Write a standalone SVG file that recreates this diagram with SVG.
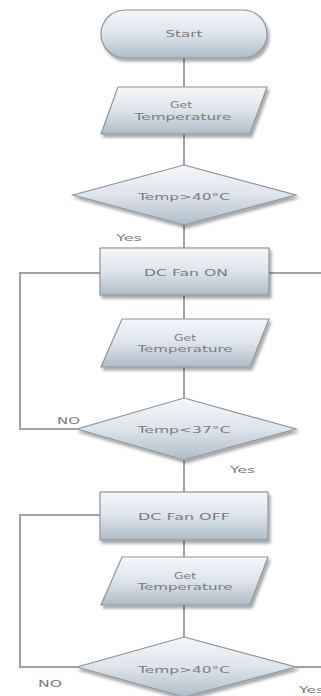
<svg xmlns="http://www.w3.org/2000/svg" width="321" height="696" viewBox="0 0 321 696">
<defs>
<linearGradient id="g" x1="0" y1="0" x2="0" y2="1">
<stop offset="0" stop-color="#f5f8fa"/>
<stop offset="0.5" stop-color="#dde4ea"/>
<stop offset="1" stop-color="#aebcc8"/>
</linearGradient>
<filter id="sh" x="-10%" y="-10%" width="130%" height="140%">
<feGaussianBlur in="SourceAlpha" stdDeviation="1.5"/>
<feOffset dx="2" dy="2.5" result="b"/>
<feComponentTransfer><feFuncA type="linear" slope="0.35"/></feComponentTransfer>
<feMerge><feMergeNode/><feMergeNode in="SourceGraphic"/></feMerge>
</filter>
<style>
.n{fill:url(#g);stroke:#8c959c;stroke-width:1.2;filter:url(#sh)}
.c{fill:none;stroke:#a3a3a3;stroke-width:2}
.t{font-family:"DejaVu Sans",sans-serif;font-size:9.5px;fill:#7c7c7c;text-anchor:middle}
.l{font-family:"DejaVu Sans",sans-serif;font-size:9px;fill:#7c7c7c}
</style>
</defs>
<rect width="321" height="696" fill="#ffffff"/>
<g id="connectors">
<path class="c" d="M184 58V87M184 134V165M184 225V248M184 295V319M184 367V398M184 460V492M184 540V557M184 605V637"/>
<path class="c" d="M100 273H20V429H77"/>
<path class="c" d="M269 273H321"/>
<path class="c" d="M100 515H20V667H77"/>
<path class="c" d="M296 667H321"/>
</g>
<g id="start">
<rect class="n" x="101" y="10" width="166" height="48" rx="24"/>
<text class="t" x="184" y="37" textLength="37" lengthAdjust="spacingAndGlyphs">Start</text>
</g>
<g id="get1">
<polygon class="n" points="118,87 267,87 250,134 101,134"/>
<text class="t" x="181" y="108" textLength="22" lengthAdjust="spacingAndGlyphs">Get</text>
<text class="t" x="183" y="120" textLength="97" lengthAdjust="spacingAndGlyphs">Temperature</text>
</g>
<g id="dec1">
<polygon class="n" points="184,165 296,195 184,225 73,195"/>
<text class="t" x="184" y="200" textLength="92" lengthAdjust="spacingAndGlyphs">Temp&gt;40°C</text>
</g>
<text class="l" x="116" y="241" textLength="26" lengthAdjust="spacingAndGlyphs">Yes</text>
<g id="fanon">
<rect class="n" x="100" y="248" width="169" height="47"/>
<text class="t" x="186" y="276" textLength="84" lengthAdjust="spacingAndGlyphs">DC Fan ON</text>
</g>
<g id="get2">
<polygon class="n" points="122,319 269,319 250,367 101,367"/>
<text class="t" x="185" y="341" textLength="22" lengthAdjust="spacingAndGlyphs">Get</text>
<text class="t" x="185" y="352" textLength="95" lengthAdjust="spacingAndGlyphs">Temperature</text>
</g>
<g id="dec2">
<polygon class="n" points="184,398 296,429 184,460 77,429"/>
<text class="t" x="184" y="433" textLength="93" lengthAdjust="spacingAndGlyphs">Temp&lt;37°C</text>
</g>
<text class="l" x="57" y="424" textLength="23" lengthAdjust="spacingAndGlyphs">NO</text>
<text class="l" x="230" y="473" textLength="25" lengthAdjust="spacingAndGlyphs">Yes</text>
<g id="fanoff">
<rect class="n" x="100" y="492" width="168" height="48"/>
<text class="t" x="184" y="520" textLength="92" lengthAdjust="spacingAndGlyphs">DC Fan OFF</text>
</g>
<g id="get3">
<polygon class="n" points="122,557 268,557 250,605 101,605"/>
<text class="t" x="185" y="579" textLength="22" lengthAdjust="spacingAndGlyphs">Get</text>
<text class="t" x="185" y="590" textLength="95" lengthAdjust="spacingAndGlyphs">Temperature</text>
</g>
<g id="dec3">
<polygon class="n" points="184,637 296,667 184,697 77,667"/>
<text class="t" x="184" y="673" textLength="92" lengthAdjust="spacingAndGlyphs">Temp&gt;40°C</text>
</g>
<text class="l" x="38" y="687" textLength="24" lengthAdjust="spacingAndGlyphs">NO</text>
<text class="l" x="299" y="693" textLength="25" lengthAdjust="spacingAndGlyphs">Yes</text>
</svg>
